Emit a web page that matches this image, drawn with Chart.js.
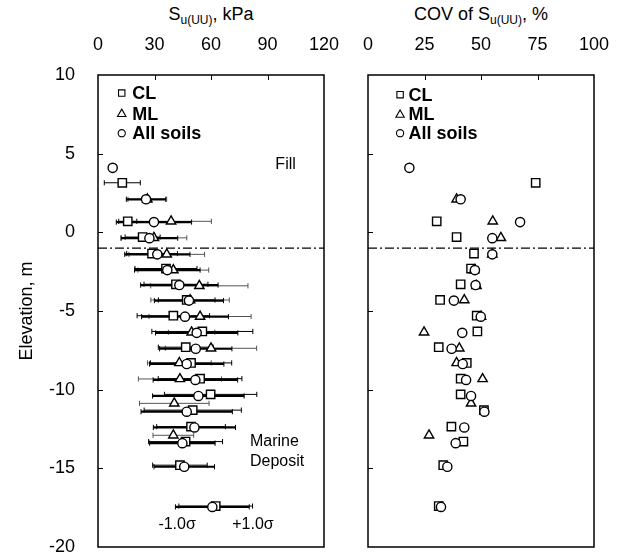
<!DOCTYPE html>
<html>
<head>
<title>Su(UU) and COV of Su(UU) vs elevation</title>
<script src="https://cdn.jsdelivr.net/npm/chart.js"></script>
<style>
    body {
        margin: 0;
        background: #ffffff;
        font-family: 'Liberation Sans', Arial, sans-serif;
    }

    .page {
        position: relative;
        width: 624px;
        height: 555px;
    }

    .axis-title {
        position: absolute;
        top: 4px;
        width: 226px;
        text-align: center;
        font-size: 18px;
        color: #000;
        white-space: nowrap;
    }

    .axis-title sub {
        font-size: 12px;
        vertical-align: -4px;
        line-height: 0;
    }

    .panel {
        position: absolute;
        top: 0;
        height: 555px;
    }

    #suPanel { left: 0; width: 346px; }
    #covPanel { left: 346px; width: 278px; }
</style>
</head>
<body>
<div class="page">
    <div class="axis-title" style="left:98px">S<sub>u(UU)</sub>, kPa</div>
    <div class="axis-title" style="left:368px">COV of S<sub>u(UU)</sub>, %</div>
    <div class="panel" id="suPanel"><canvas id="suChart"></canvas></div>
    <div class="panel" id="covPanel"><canvas id="covChart"></canvas></div>
</div>

<script>
    // Tick labels
    const elevTicks = [10, 5, 0, -5, -10, -15, -20];
    const suTicks = [0, 30, 60, 90, 120];
    const covTicks = [0, 25, 50, 75, 100];

    const seriesNames = ['CL', 'ML', 'All soils'];

    // CL: elevation (m), mean Su(UU) (kPa), COV (%)
    const clElev = [3.15, 0.7, -0.3, -1.35, -2.3, -3.3, -4.3, -5.3, -6.3, -7.3, -8.3, -9.3, -10.3, -11.3, -12.35, -13.3, -14.8, -17.4];
    const clMean = [12.9, 15.8, 23.7, 28.7, 36.1, 41.4, 47.1, 40.0, 55.4, 46.6, 49.4, 54.2, 59.8, 50.3, 49.4, 46.5, 43.5, 62.5];
    const clCov  = [74.2, 30.4, 39.2, 46.9, 45.6, 41.0, 31.9, 48.1, 48.4, 31.3, 43.7, 41.0, 41.0, 51.3, 36.9, 42.2, 33.3, 31.3];

    // ML
    const mlElev = [2.1, 0.7, -0.35, -1.4, -2.4, -3.4, -4.3, -5.35, -6.35, -7.37, -8.3, -9.32, -10.87, -12.9];
    const mlMean = [26.2, 38.8, 29.7, 36.5, 40.0, 53.8, 48.9, 54.2, 49.7, 60.0, 43.2, 43.5, 40.5, 40.0];
    const mlCov  = [39.2, 55.2, 58.8, 55.0, 47.0, 48.0, 42.6, 50.0, 24.8, 40.4, 39.2, 50.7, 45.6, 27.0];

    // All soils
    const allElev = [4.1, 2.1, 0.65, -0.37, -1.4, -2.4, -3.35, -4.34, -5.36, -6.39, -7.4, -8.37, -9.38, -10.4, -11.4, -12.4, -13.4, -14.9, -17.45];
    const allMean = [7.8, 25.5, 29.7, 27.3, 31.5, 36.8, 43.2, 48.3, 46.2, 52.4, 51.9, 47.1, 51.7, 53.3, 47.1, 51.2, 44.8, 45.8, 60.7];
    const allCov  = [18.3, 41.0, 67.3, 55.0, 55.0, 47.3, 47.6, 38.0, 49.9, 41.7, 37.0, 41.9, 43.4, 45.6, 51.5, 42.6, 38.8, 35.1, 32.3];

    // Fill / marine deposit boundary
    const fillBase = -1.0;

    Chart.defaults.font.family = "'Liberation Sans', Arial, sans-serif";
    Chart.defaults.color = '#000';

    const markerStyles = [
        { pointStyle: 'rect', radius: 5.9 },
        { pointStyle: 'triangle', radius: 5.4 },
        { pointStyle: 'circle', radius: 4.6 }
    ];

    function points(xs, ys) {
        return xs.map((v, i) => ({ x: v, y: ys[i] }));
    }

    function markerDataset(label, data, k, order) {
        return {
            label: label,
            data: data,
            pointStyle: markerStyles[k].pointStyle,
            pointRadius: markerStyles[k].radius,
            backgroundColor: '#ffffff',
            borderColor: '#000000',
            borderWidth: 1.4,
            order: order
        };
    }

    // Small open symbols for the in-plot legend
    function drawSymbol(ctx, style, px, py) {
        ctx.beginPath();
        if (style === 'rect') {
            ctx.rect(px - 3.2, py - 3.2, 6.4, 6.4);
        } else if (style === 'triangle') {
            ctx.moveTo(px, py - 4.4);
            ctx.lineTo(px + 4.2, py + 2.9);
            ctx.lineTo(px - 4.2, py + 2.9);
            ctx.closePath();
        } else {
            ctx.arc(px, py, 3.6, 0, Math.PI * 2);
        }
        ctx.fillStyle = '#fff';
        ctx.fill();
        ctx.stroke();
    }

    function drawErrorBars(chart, elev, mean, cov, style) {
        const { ctx, scales: { x, y } } = chart;
        ctx.save();
        ctx.strokeStyle = style.color;
        ctx.lineWidth = style.width;
        for (let i = 0; i < elev.length; i++) {
            const sd = mean[i] * cov[i] / 100;
            const x1 = x.getPixelForValue(mean[i] - sd);
            const x2 = x.getPixelForValue(mean[i] + sd);
            const py = y.getPixelForValue(elev[i]);
            ctx.beginPath();
            ctx.moveTo(x1, py);
            ctx.lineTo(x2, py);
            ctx.stroke();
            ctx.lineWidth = 1;
            ctx.beginPath();
            ctx.moveTo(x1, py - 2.6);
            ctx.lineTo(x1, py + 2.6);
            ctx.moveTo(x2, py - 2.6);
            ctx.lineTo(x2, py + 2.6);
            ctx.stroke();
            ctx.lineWidth = style.width;
        }
        ctx.restore();
    }

    // Frame, inward ticks, boundary line, legend and notes for one panel
    function makeExtras(cfg) {
        return {
            id: 'panelExtras',
            beforeDatasetsDraw(chart) {
                if (cfg.bars) {
                    drawErrorBars(chart, mlElev, mlMean, mlCov, { color: '#555', width: 1 });
                    drawErrorBars(chart, clElev, clMean, clCov, { color: '#000', width: 1 });
                    drawErrorBars(chart, allElev, allMean, allCov, { color: '#000', width: 2.2 });
                }
            },
            afterDraw(chart) {
                const { ctx, chartArea: a, scales: { x, y } } = chart;
                ctx.save();
                ctx.strokeStyle = '#000';

                // boundary between fill and marine deposit
                const yb = y.getPixelForValue(fillBase);
                ctx.lineWidth = 1.3;
                ctx.setLineDash([9, 3, 2, 3]);
                ctx.beginPath();
                ctx.moveTo(a.left, yb);
                ctx.lineTo(a.right, yb);
                ctx.stroke();
                ctx.setLineDash([]);

                // inward ticks
                ctx.lineWidth = 1;
                ctx.beginPath();
                elevTicks.slice(1, -1).forEach(v => {
                    const py = Math.round(y.getPixelForValue(v)) + 0.5;
                    ctx.moveTo(a.left, py);
                    ctx.lineTo(a.left + 5, py);
                });
                cfg.xTicks.slice(1, -1).forEach(v => {
                    const px = Math.round(x.getPixelForValue(v)) + 0.5;
                    ctx.moveTo(px, a.top);
                    ctx.lineTo(px, a.top + 5);
                });
                ctx.stroke();

                // frame
                ctx.lineWidth = 1.5;
                ctx.strokeRect(a.left, a.top, a.right - a.left, a.bottom - a.top);

                // legend
                ctx.lineWidth = 1.1;
                cfg.legend.rows.forEach((ev, k) => {
                    const py = y.getPixelForValue(ev);
                    const px = x.getPixelForValue(cfg.legend.symbolX);
                    drawSymbol(ctx, markerStyles[k].pointStyle, px, py);
                    ctx.fillStyle = '#000';
                    ctx.font = "bold 18px 'Liberation Sans', Arial, sans-serif";
                    ctx.textAlign = 'left';
                    ctx.textBaseline = 'middle';
                    ctx.fillText(seriesNames[k], x.getPixelForValue(cfg.legend.textX), py + 1);
                });

                // notes
                ctx.font = "16px 'Liberation Sans', Arial, sans-serif";
                ctx.fillStyle = '#000';
                ctx.textBaseline = 'middle';
                (cfg.notes || []).forEach(n => {
                    ctx.textAlign = n.align;
                    ctx.fillText(n.text, x.getPixelForValue(n.x), y.getPixelForValue(n.y));
                });
                ctx.restore();
            }
        };
    }

    function elevAxis(showLabels, width) {
        return {
            type: 'linear',
            position: 'left',
            min: -20,
            max: 10,
            afterBuildTicks: s => { s.ticks = elevTicks.map(v => ({ value: v })); },
            afterFit: s => { s.width = width; s.paddingTop = 0; s.paddingBottom = 0; },
            grid: { display: false, drawTicks: false },
            border: { display: false },
            ticks: { display: showLabels, padding: 23, font: { size: 18 } },
            title: {
                display: showLabels,
                text: 'Elevation, m',
                font: { size: 18 },
                padding: { top: 16, bottom: 0 }
            }
        };
    }

    function topAxis(min, max, tickValues) {
        return {
            type: 'linear',
            position: 'top',
            min: min,
            max: max,
            afterBuildTicks: s => { s.ticks = tickValues.map(v => ({ value: v })); },
            afterFit: s => { s.height = 75; s.paddingLeft = 0; s.paddingRight = 0; },
            grid: { display: false, drawTicks: false },
            border: { display: false },
            ticks: { padding: 19, font: { size: 18 } }
        };
    }

    const baseOptions = {
        responsive: true,
        maintainAspectRatio: false,
        animation: false,
        events: [],
        plugins: { legend: { display: false }, tooltip: { enabled: false } }
    };

    const suChart = new Chart(document.getElementById('suChart').getContext('2d'), {
        type: 'scatter',
        data: {
            datasets: [
                markerDataset('CL', points(clMean, clElev), 0, 2),
                markerDataset('ML', points(mlMean, mlElev), 1, 1),
                markerDataset('All soils', points(allMean, allElev), 2, 0)
            ]
        },
        options: Object.assign({}, baseOptions, {
            layout: { padding: { left: 0, right: 22, top: 0, bottom: 8 } },
            scales: { x: topAxis(0, 120, suTicks), y: elevAxis(true, 98) }
        }),
        plugins: [makeExtras({
            bars: true,
            xTicks: suTicks,
            legend: { rows: [8.85, 7.55, 6.3], symbolX: 12.6, textX: 18.2 },
            notes: [
                { text: 'Fill', x: 99.6, y: 4.33, align: 'center' },
                { text: 'Marine', x: 80.7, y: -13.3, align: 'left' },
                { text: 'Deposit', x: 80.7, y: -14.6, align: 'left' },
                { text: '-1.0σ', x: 42, y: -18.6, align: 'center' },
                { text: '+1.0σ', x: 82.3, y: -18.6, align: 'center' }
            ]
        })]
    });

    const covChart = new Chart(document.getElementById('covChart').getContext('2d'), {
        type: 'scatter',
        data: {
            datasets: [
                markerDataset('CL', points(clCov, clElev), 0, 2),
                markerDataset('ML', points(mlCov, mlElev), 1, 1),
                markerDataset('All soils', points(allCov, allElev), 2, 0)
            ]
        },
        options: Object.assign({}, baseOptions, {
            layout: { padding: { left: 0, right: 30, top: 0, bottom: 8 } },
            scales: { x: topAxis(0, 100, covTicks), y: elevAxis(false, 22) }
        }),
        plugins: [makeExtras({
            bars: false,
            xTicks: covTicks,
            legend: { rows: [8.75, 7.5, 6.3], symbolX: 14.2, textX: 17.9 }
        })]
    });
</script>
</body>
</html>
